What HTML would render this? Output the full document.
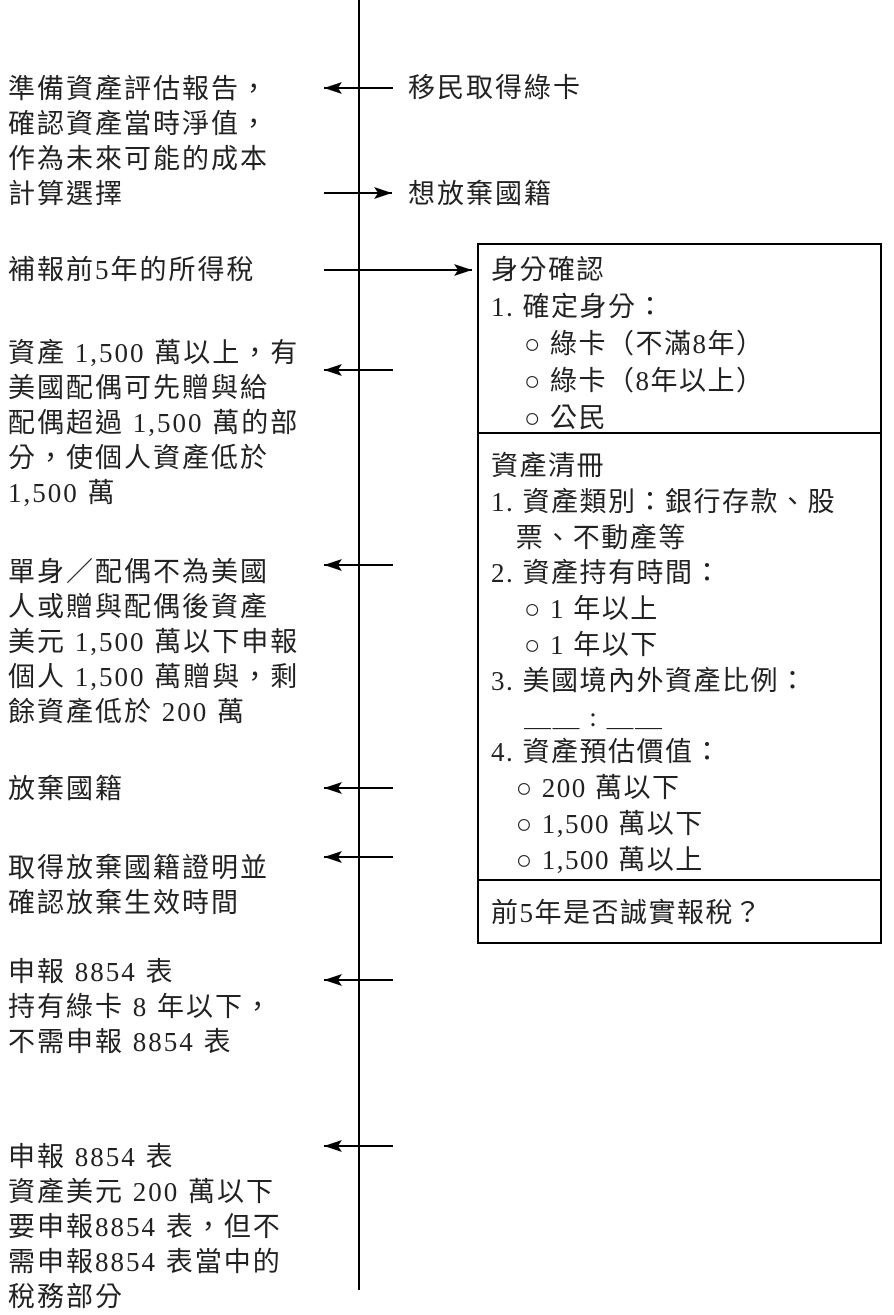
<!DOCTYPE html>
<html><head><meta charset="utf-8"><style>
body{margin:0;width:894px;height:1300px;background:#fff;position:relative;overflow:hidden;font-family:"Liberation Serif","Noto Sans CJK TC",serif;color:#222}
.t{position:absolute;font-size:27px;line-height:35px;white-space:pre;letter-spacing:2px}
.b{position:absolute;font-size:27px;white-space:pre;letter-spacing:1.5px}
svg{position:absolute;left:0;top:0}
</style></head><body>
<svg width="894" height="1300">
<defs><marker id="a" markerWidth="18" markerHeight="12" refX="18" refY="6" orient="auto" markerUnits="userSpaceOnUse"><path d="M0,0 L18,6 L0,12 L4,6 Z" fill="#000"/></marker></defs>
<line x1="359" y1="0" x2="359" y2="1290" stroke="#000" stroke-width="2"/>
<g stroke="#000" stroke-width="2" marker-end="url(#a)">
<line x1="393" y1="88" x2="324" y2="88"/>
<line x1="324" y1="193" x2="392" y2="193"/>
<line x1="324" y1="270" x2="472" y2="270"/>
<line x1="393" y1="370" x2="324" y2="370"/>
<line x1="393" y1="565" x2="324" y2="565"/>
<line x1="393" y1="788" x2="324" y2="788"/>
<line x1="393" y1="857" x2="324" y2="857"/>
<line x1="393" y1="980" x2="324" y2="980"/>
<line x1="393" y1="1146" x2="324" y2="1146"/>
</g>
<rect x="478" y="244" width="403" height="699" fill="none" stroke="#000" stroke-width="2"/>
<line x1="478" y1="433" x2="881" y2="433" stroke="#000" stroke-width="2"/>
<line x1="478" y1="880" x2="881" y2="880" stroke="#000" stroke-width="2"/>
</svg>
<div class="t" style="left:8px;top:72px">準備資產評估報告，
確認資產當時淨值，
作為未來可能的成本
計算選擇</div>
<div class="t" style="left:408px;top:71px">移民取得綠卡</div>
<div class="t" style="left:408px;top:177px">想放棄國籍</div>
<div class="t" style="left:8px;top:253px">補報前5年的所得稅</div>
<div class="t" style="left:8px;top:336px">資產 1,500 萬以上，有
美國配偶可先贈與給
配偶超過 1,500 萬的部
分，使個人資產低於
1,500 萬</div>
<div class="t" style="left:8px;top:555px">單身／配偶不為美國
人或贈與配偶後資產
美元 1,500 萬以下申報
個人 1,500 萬贈與，剩
餘資產低於 200 萬</div>
<div class="t" style="left:8px;top:772px">放棄國籍</div>
<div class="t" style="left:8px;top:851px">取得放棄國籍證明並
確認放棄生效時間</div>
<div class="t" style="left:8px;top:955px">申報 8854 表
持有綠卡 8 年以下，
不需申報 8854 表</div>
<div class="t" style="left:8px;top:1140px">申報 8854 表
資產美元 200 萬以下
要申報8854 表，但不
需申報8854 表當中的
稅務部分</div>
<div class="b" style="left:491px;top:252px;line-height:37px">身分確認
1. 確定身分：
    ○ 綠卡（不滿8年）
    ○ 綠卡（8年以上）
    ○ 公民</div>
<div class="b" style="left:491px;top:449px;line-height:35.8px">資產清冊
1. 資產類別：銀行存款、股
   票、不動產等
2. 資產持有時間：
    ○ 1 年以上
    ○ 1 年以下
3. 美國境內外資產比例：
    ＿＿ : ＿＿
4. 資產預估價值：
   ○ 200 萬以下
   ○ 1,500 萬以下
   ○ 1,500 萬以上</div>
<div class="b" style="left:491px;top:895px;line-height:36px">前5年是否誠實報稅？</div>
</body></html>
